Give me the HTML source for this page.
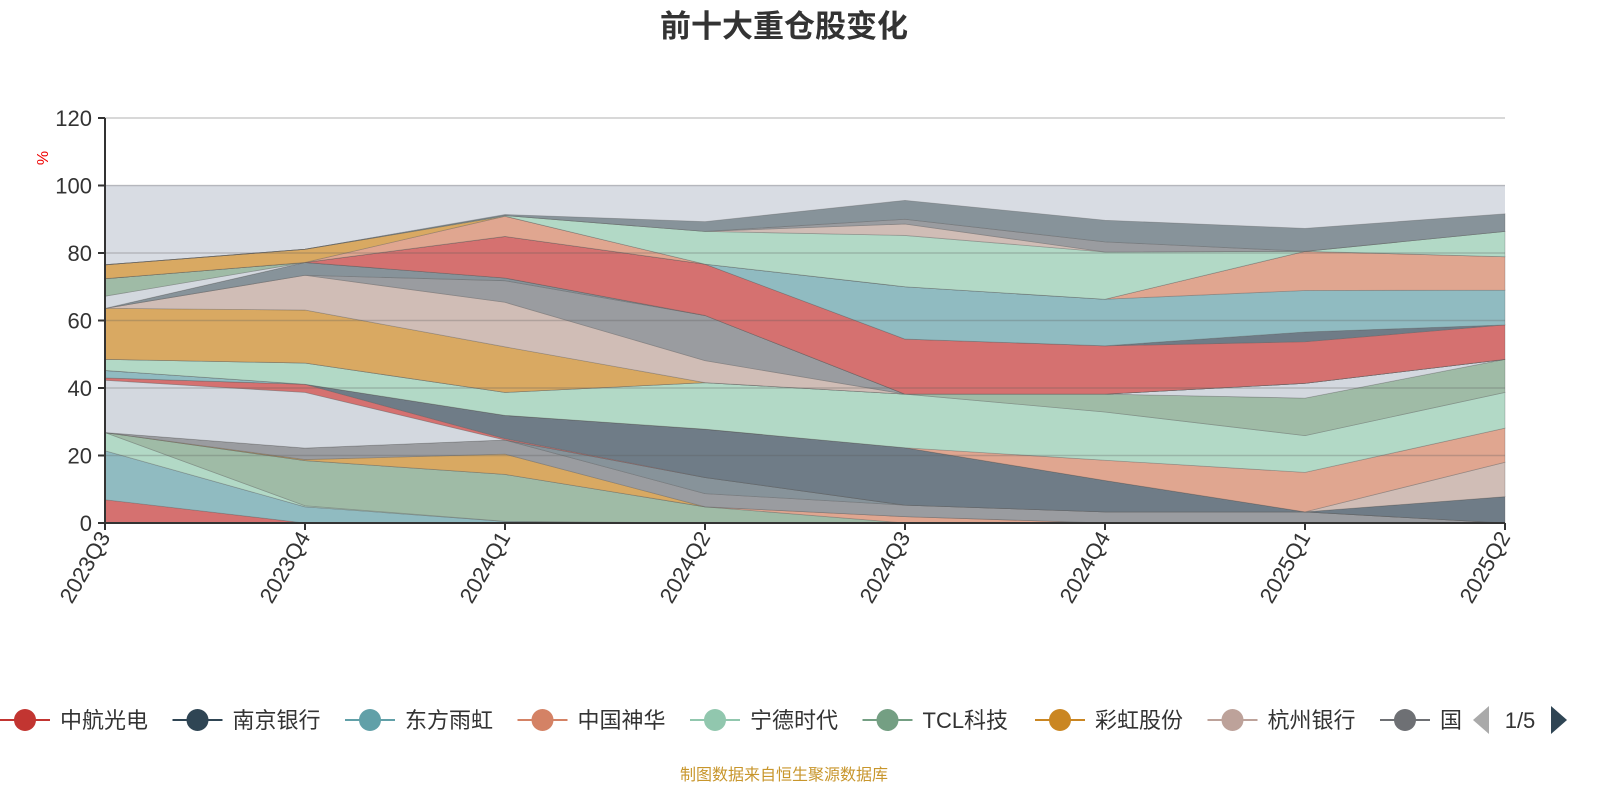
<!DOCTYPE html>
<html><head><meta charset="utf-8"><title>前十大重仓股变化</title>
<style>
html,body{margin:0;padding:0;background:#fff;}
svg{display:block;font-family:"Liberation Sans","Noto Sans CJK SC",sans-serif;}
</style></head>
<body>
<svg id="chart" width="1600" height="800" viewBox="0 0 1600 800">
<defs><clipPath id="legclip"><rect x="0" y="690" width="1462" height="60"/></clipPath></defs>
<text x="784" y="37" text-anchor="middle" font-size="31" font-weight="bold" fill="#333">前十大重仓股变化</text>
<rect x="105" y="185" width="1400" height="338" fill="#d8dce3"/>
<g id="areas"></g>
<g id="grid"></g>
<g id="yaxis"></g>
<g id="xaxis"></g>
<text transform="translate(48,158) rotate(-90)" text-anchor="middle" font-size="16" fill="#e00">%</text>
<g id="legend" clip-path="url(#legclip)"></g>
<path d="M1489,706 L1489,734 L1473,720 Z" fill="#aaa"/>
<text x="1520" y="728" text-anchor="middle" font-size="22" fill="#333">1/5</text>
<path d="M1551,706 L1551,734 L1567,720 Z" fill="#2f4554"/>
<text x="784" y="780" text-anchor="middle" font-size="16" fill="#c8962c">制图数据来自恒生聚源数据库</text>
</svg>
<script>
const categories = ["2023Q3","2023Q4","2024Q1","2024Q2","2024Q3","2024Q4","2025Q1","2025Q2"];
const yTicks = [0,20,40,60,80,100,120];
const legendNames = ["中航光电","南京银行","东方雨虹","中国神华","宁德时代","TCL科技","彩虹股份","杭州银行","国"];
const legendColors = ["#c23531","#2f4554","#61a0a8","#d48265","#91c7ae","#749f83","#ca8622","#bda29a","#6e7074"];
// stacked series (bottom to top)
const seriesNames = ["s01","s02","s03","s04","s05","s06","s07","s08","g01","s09","s10","s11","s12","s13","s14","s15","g02","s16","s17","s18","s19","g03","s20","s21","s22","s23","s24","s25","s26","s27","s28","s29"];
const seriesColors = ["#d57170","#90bbc1","#b2d9c6","#9fbba6","#e0a690","#d9a962","#9a9ca0","#87939a","#d3d8df","#d57170","#6f7c87","#90bbc1","#d0bdb6","#e0a690","#b2d9c6","#9fbba6","#d3d8df","#d9a962","#d0bdb6","#9a9ca0","#87939a","#d3d8df","#9fbba6","#d57170","#6f7c87","#90bbc1","#e0a690","#d9a962","#b2d9c6","#d0bdb6","#9a9ca0","#87939a"];
const v01 = [6.9,0,0,0,0,0,0,0];
const v02 = [14.5,4.8,0.5,0,0,0,0,0];
const v03 = [5.4,0.3,0,0,0,0,0,0];
const v04 = [0,13.4,13.9,4.8,0,0,0,0];
const v05 = [0,0,0,0,1.9,0,0,0];
const v06 = [0,0.3,6,0,0,0,0,0];
const v07 = [0,3.4,4.2,3.9,3.4,3.3,3.3,0];
const v08 = [0,0,0,4.8,0,0,0,0];
const vg1 = [15.5,16.5,0,0,0,0,0,0];
const v09 = [0.7,2.4,0.4,0,0,0,0,0];
const v10 = [0,0,6.9,14.3,17,9.3,0,7.8];
const v11 = [2.2,0,0,0,0,0,0,0];
const v12 = [0,0,0,0,0,0,0,10.2];
const v13 = [0,0,0,0,0,6,11.7,10.1];
const v14 = [3.3,6.3,6.8,13.8,15.9,14.3,10.9,10.6];
const v15 = [0,0,0,0,0,5.3,11.1,9.8];
const vg2 = [0,0,0,0,0,0,4.4,0];
const v16 = [15.1,15.7,13.5,0,0,0,0,0];
const v17 = [0,10.3,13.2,6.5,0,0,0,0];
const v18 = [0,0,6.4,13.4,0,0,0,0];
const v19 = [0,3.8,0.8,0,0,0,0,0];
const vg3 = [3.6,0,0,0,0,0,0,0];
const v20 = [5.2,0,0,0,0,0,0,0];
const v21 = [0,0,12.3,15.2,16.3,14.3,12.3,10.2];
const v22 = [0,0,0,0,0,0,2.9,0];
const v23 = [0,0,0,0,15.5,13.8,12.3,10.3];
const v24 = [0,0,6,0,0,0,11.6,9.9];
const v25 = [4.1,3.9,0,0,0,0,0,0];
const v26 = [0,0,0.2,9.7,15.2,14,0,7.5];
const v27 = [0,0,0,0,3.4,0,0,0];
const v28 = [0,0,0,0,1.4,3,0,0];
const v29 = [0,0,0.3,2.9,5.6,6.4,6.8,5.2];
const seriesValues = [v01,v02,v03,v04,v05,v06,v07,v08,vg1,v09,v10,v11,v12,v13,v14,v15,vg2,v16,v17,v18,v19,vg3,v20,v21,v22,v23,v24,v25,v26,v27,v28,v29];

const NS = "http://www.w3.org/2000/svg";
const X0 = 105, XSTEP = 200, Y0 = 523, YMAX = 120, YH = 405;
function xs(i){ return X0 + XSTEP*i; }
function ys(v){ return Y0 - v/YMAX*YH; }
function mk(tag, attrs, parent){ const e=document.createElementNS(NS,tag); for(const k in attrs) e.setAttribute(k,attrs[k]); parent.appendChild(e); return e; }

const areas = document.getElementById('areas');
let base = categories.map(()=>0);
seriesValues.forEach((vals, si)=>{
  const top = base.map((b,i)=>b+vals[i]);
  let d = "M" + top.map((t,i)=>xs(i)+","+ys(t)).join(" L");
  for(let i=categories.length-1;i>=0;i--) d += " L"+xs(i)+","+ys(base[i]);
  d += " Z";
  const p = mk('path',{d:d, fill:seriesColors[si], stroke:'rgba(90,90,90,0.35)', 'stroke-width':'0.8'}, areas);
  
  
  base = top;
});

const grid = document.getElementById('grid');
const yaxis = document.getElementById('yaxis');
yTicks.forEach(t=>{
  if(t>0){
    const g = mk('line',{x1:X0,x2:1505,y1:ys(t),y2:ys(t),stroke:t===120?'#ccc':'rgba(90,90,90,0.28)','stroke-width':'1.5'}, grid);
    
    
  }
  const tk = mk('line',{x1:X0-7,x2:X0,y1:ys(t),y2:ys(t),stroke:'#333','stroke-width':'2'}, yaxis);
  
  
  const lb = mk('text',{x:X0-13,y:ys(t)+8,'text-anchor':'end','font-size':'22',fill:'#333'}, yaxis);
  lb.textContent = t;
  
  
});
const yl = mk('line',{x1:X0,x2:X0,y1:ys(120),y2:Y0,stroke:'#333','stroke-width':'2'}, yaxis);



const xaxis = document.getElementById('xaxis');
const xl = mk('line',{x1:X0,x2:1505,y1:Y0,y2:Y0,stroke:'#333','stroke-width':'2'}, xaxis);


categories.forEach((c,i)=>{
  const tk = mk('line',{x1:xs(i),x2:xs(i),y1:Y0,y2:Y0+7,stroke:'#333','stroke-width':'2'}, xaxis);
  
  
  const lb = mk('text',{transform:'translate('+(xs(i)+6)+','+(Y0+14)+') rotate(-60)','text-anchor':'end','font-size':'22',fill:'#333'}, xaxis);
  lb.textContent = c;
  
  
});

const legend = document.getElementById('legend');
legendNames.forEach((n,i)=>{
  const cx = 25 + i*172.5;
  const g = mk('g',{}, legend);
  
  
  mk('line',{x1:cx-25,x2:cx+25,y1:720,y2:720,stroke:legendColors[i],'stroke-width':'2'}, g);
  mk('circle',{cx:cx,cy:720,r:11,fill:legendColors[i]}, g);
  const t = mk('text',{x:cx+35,y:728,'font-size':'22',fill:'#333'}, g);
  t.textContent = n;
});
</script>
</body></html>
